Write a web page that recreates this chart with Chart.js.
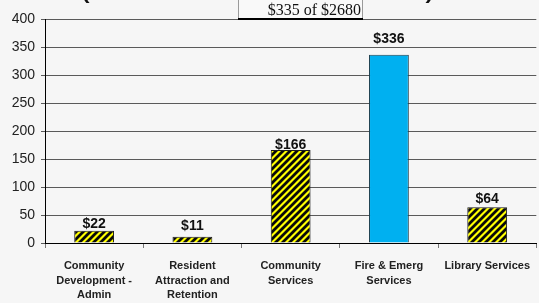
<!DOCTYPE html>
<html><head><meta charset="utf-8">
<script src="https://cdn.jsdelivr.net/npm/chart.js@4/dist/chart.umd.min.js"></script>
<style>html,body{margin:0;padding:0;background:#f6f6f6;overflow:hidden;}#wrap{width:539px;height:303px;overflow:hidden;}</style>
</head><body><div id="wrap"><canvas id="c" width="541" height="303"></canvas></div>
<script>
const categories = [["Community","Development -","Admin"],["Resident","Attraction and","Retention"],["Community","Services"],["Fire & Emerg","Services"],["Library Services"]];
const values = [22, 11, 166, 336, 64];
const valueLabels = ["$22","$11","$166","$336","$64"];
const highlight = [false, false, false, true, false];
const titleText = "(Total Annual Budget Allocation)";
const boxText = "$335 of $2680";
const labelGap = [3, 7, 1, 12, 4];

function stripe(){
  const s = 7;
  const p = document.createElement('canvas'); p.width = s; p.height = s;
  const x = p.getContext('2d');
  x.fillStyle = '#ffff00'; x.fillRect(0,0,s,s);
  x.strokeStyle = '#0a0a0a'; x.lineWidth = 2.8;
  x.beginPath();
  x.moveTo(-s/2,s/2); x.lineTo(s/2,-s/2);
  x.moveTo(0,s); x.lineTo(s,0);
  x.moveTo(s/2,s*1.5); x.lineTo(s*1.5,s/2);
  x.stroke();
  return document.getElementById('c').getContext('2d').createPattern(p,'repeat');
}
const pat = stripe();

const deco = {
  id:'deco',
  beforeDraw(chart){
    const ctx = chart.ctx; ctx.save(); ctx.fillStyle='#f6f6f6'; ctx.fillRect(0,0,chart.width,chart.height); ctx.restore();
  },
  afterDatasetsDraw(chart){
    const ctx = chart.ctx; const meta = chart.getDatasetMeta(0);
    ctx.save();
    ctx.font = 'bold 14px "Liberation Sans", Arial, sans-serif';
    ctx.fillStyle = '#111'; ctx.textAlign='center'; ctx.textBaseline='alphabetic';
    meta.data.forEach((b,i)=>{ ctx.fillText(valueLabels[i], b.x, b.y - labelGap[i]); });
    // cropped title
    ctx.font = 'bold 18px "Liberation Sans", Arial, sans-serif';
    ctx.textAlign='left';
    const w = ctx.measureText(titleText).width;
    ctx.save(); ctx.translate(82,-1); ctx.scale(351/w,1); ctx.fillText(titleText,0,0); ctx.restore();
    // box
    ctx.fillStyle = '#f9f9f9'; ctx.fillRect(238,-1,125,20);
    ctx.strokeStyle = '#9a9a9a'; ctx.lineWidth=1;
    ctx.beginPath(); ctx.moveTo(238.5,0); ctx.lineTo(238.5,19); ctx.moveTo(362.5,0); ctx.lineTo(362.5,19); ctx.stroke();
    ctx.strokeStyle = '#000'; ctx.lineWidth=2;
    ctx.beginPath(); ctx.moveTo(238,19); ctx.lineTo(363,19); ctx.stroke();
    ctx.fillStyle='#111'; ctx.font = '16px "Liberation Serif", "Times New Roman", serif';
    ctx.textAlign='right'; ctx.fillText(boxText, 361, 15);
    ctx.restore();
  }
};

new Chart(document.getElementById('c'), {
  type:'bar',
  data:{ labels: categories, datasets:[{
    data: values,
    backgroundColor: highlight.map(h=> h ? '#00b0f0' : pat),
    borderColor: highlight.map(h=> h ? '#1b3f4f' : '#1a1a1a'),
    borderWidth: 1,
    categoryPercentage: 1, barPercentage: 0.405
  }]},
  options:{
    responsive:false, animation:false,
    layout:{padding:{top:19,right:0,bottom:0,left:0}},
    plugins:{legend:{display:false}, tooltip:{enabled:false}},
    scales:{
      x:{
        grid:{drawOnChartArea:false, color:'#777', tickLength:5, offset:true},
        border:{color:'#000', width:1},
        ticks:{font:{family:'"Liberation Sans", Arial, sans-serif', size:11, weight:'bold', lineHeight:1.32}, color:'#222', padding:11, maxRotation:0, autoSkip:false},
        afterFit(s){ s.height = 60; }
      },
      y:{
        min:0, max:400,
        ticks:{stepSize:50, font:{family:'"Liberation Sans", Arial, sans-serif', size:14}, color:'#222', padding:6},
        grid:{color:'#5a5a5a', lineWidth:1, tickLength:4},
        border:{color:'#000', width:1},
        afterFit(s){ s.width = 45; }
      }
    }
  },
  plugins:[deco]
});
</script></body></html>
